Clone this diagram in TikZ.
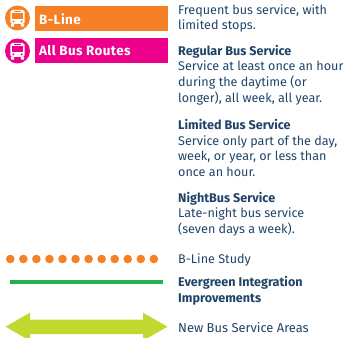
\documentclass[tikz,border=0pt]{standalone}
\usepackage{fontspec}
\setmainfont{Fira Sans}
\definecolor{bl}{HTML}{F58025}
\definecolor{mg}{HTML}{EC008C}
\definecolor{gr}{HTML}{22B24C}
\definecolor{lm}{HTML}{C1D82F}
\definecolor{tx}{HTML}{1F4468}
\tikzset{
 x=1pt,y=-1pt,
 lab/.style={anchor=west,inner sep=0pt,text=tx,font=\fontsize{12.6}{15.7}\selectfont,align=left},
 bar/.style={anchor=north west,inner sep=0pt,minimum width=133,minimum height=25},
 bartxt/.style={anchor=west,inner sep=0pt,text=white,font=\fontsize{13.4}{15}\selectfont\bfseries\addfontfeatures{LetterSpace=3}},
 circ/.style={circle,inner sep=0pt,minimum size=25},
}
\newcommand{\busicon}[3]{%
 \begin{scope}[shift={(#1,#2)}]
  \fill[white,rounded corners=1.8] (-7.2,-8) rectangle (7.2,6);
  \fill[#3] (-5.4,-4.8) rectangle (5.4,1);
  \fill[#3] (-3.8,-6.9) rectangle (3.8,-6);
  \fill[#3] (-4.1,3.4) circle (1.1) (4.1,3.4) circle (1.1);
  \fill[white] (-6.6,6) rectangle (-3.4,8.6) (3.4,6) rectangle (6.6,8.6);
 \end{scope}}
\begin{document}
\begin{tikzpicture}
\useasboundingbox (0,0) rectangle (345,337);
\clip (0,0) rectangle (345,337);
\node[circ,fill=bl] (c1) at (17.5,18) {};
\busicon{17.5}{18}{bl}
\node[circ,fill=mg] (c2) at (17.5,51) {};
\busicon{17.5}{51}{mg}
\node[bar,fill=bl] (b1) at (35,6) {};
\node[bar,fill=mg] (b2) at (35,38) {};
\node[bartxt] at (39,19) {B-Line};
\node[bartxt] at (39,51) {All Bus Routes};
\node[lab] at (178,18.5) {Frequent bus service, with\\limited stops.};
\node[lab] at (178,75) {\textbf{Regular Bus Service}\\Service at least once an hour\\during the daytime (or\\longer), all week, all year.};
\node[lab] at (178,148) {\textbf{Limited Bus Service}\\Service only part of the day,\\week, or year, or less than\\once an hour.};
\node[lab] at (178,214) {\textbf{NightBus Service}\\Late-night bus service\\(seven days a week).};
\node[lab] at (178,260) {B-Line Study};
\node[lab] at (178,290.5) {\textbf{Evergreen Integration}\\\textbf{Improvements}};
\node[lab,font=\fontsize{12.9}{15.7}\selectfont] at (178,327.5) {New Bus Service Areas};
\foreach \i in {0,...,11}
  \fill[bl] (10.3+13.05*\i,259) circle (4.3);
\coordinate (g1) at (10,282);
\coordinate (g2) at (162.5,282);
\draw[gr,line width=4] (g1) -- (g2);
\fill[lm] (5.5,326.7) -- (30,312.7) -- (30,319.7) -- (143,319.7) -- (143,312.7) -- (167.5,326.7) -- (143,340.7) -- (143,334) -- (30,334) -- (30,340.7) -- cycle;
\end{tikzpicture}
\end{document}
